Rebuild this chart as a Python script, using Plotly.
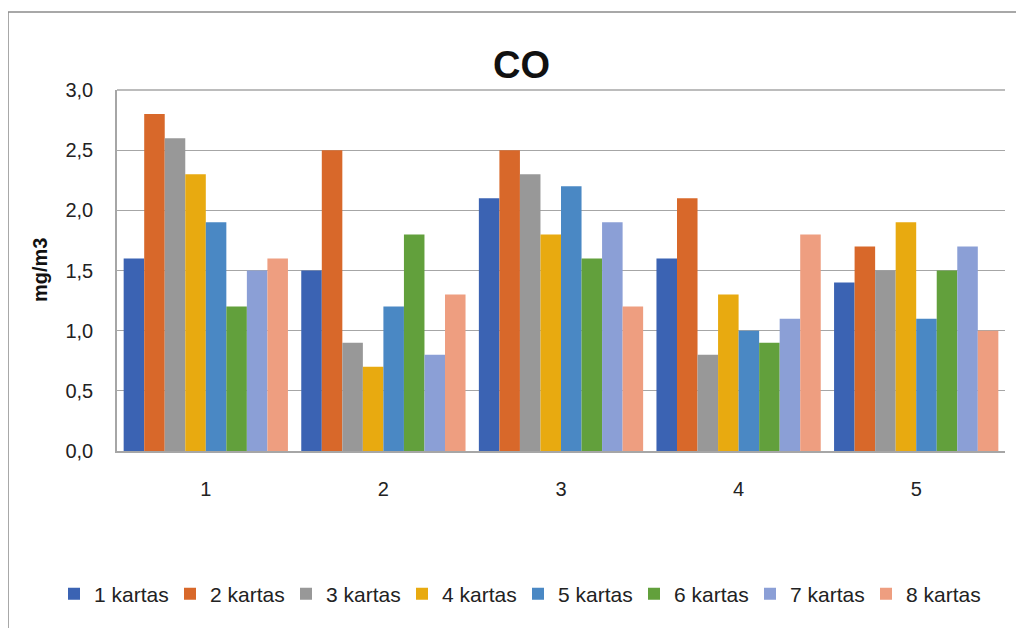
import plotly.graph_objects as go

categories = ["1", "2", "3", "4", "5"]
series_names = ["1 kartas", "2 kartas", "3 kartas", "4 kartas",
                "5 kartas", "6 kartas", "7 kartas", "8 kartas"]
s1 = [1.6, 1.5, 2.1, 1.6, 1.4]
s2 = [2.8, 2.5, 2.5, 2.1, 1.7]
s3 = [2.6, 0.9, 2.3, 0.8, 1.5]
s4 = [2.3, 0.7, 1.8, 1.3, 1.9]
s5 = [1.9, 1.2, 2.2, 1.0, 1.1]
s6 = [1.2, 1.8, 1.6, 0.9, 1.5]
s7 = [1.5, 0.8, 1.9, 1.1, 1.7]
s8 = [1.6, 1.3, 1.2, 1.8, 1.0]
series_values = [s1, s2, s3, s4, s5, s6, s7, s8]
colors = ["#3B63B3", "#D8682A", "#989898", "#E8AA10",
          "#4A88C4", "#62A03C", "#8B9FD6", "#EE9E80"]
y_ticks = [0.0, 0.5, 1.0, 1.5, 2.0, 2.5, 3.0]

fig = go.Figure()
for name, vals, col in zip(series_names, series_values, colors):
    fig.add_trace(go.Bar(x=categories, y=vals, name=name,
                         marker=dict(color=col, line=dict(width=0))))

# page has an 8px body margin: figure coords = screen coords - 8
OFF = 8
W, H = 1024 - OFF, 628 - OFF
L, T = 117 - OFF, 90 - OFF
R = W - (1005 - OFF)
B = H - (451 - OFF)
pw, ph = W - L - R, H - T - B

def px(x):  # screen x -> paper
    return (x - OFF - L) / pw

def py(y):  # screen y -> paper
    return (H - B - (y - OFF)) / ph

font = "Liberation Sans, Arial, sans-serif"
fig.update_layout(
    width=W, height=H,
    margin=dict(l=L, r=R, t=T, b=B, pad=0, autoexpand=False),
    paper_bgcolor="white", plot_bgcolor="white",
    barmode="group", bargap=0.075, bargroupgap=0,
    separators=", ",
    font=dict(family=font, color="#222222"),
    showlegend=True,
    legend=dict(orientation="h", x=px(54), y=py(594), xanchor="left",
                yanchor="middle", font=dict(size=21, color="#222222"),
                itemwidth=30, traceorder="normal", itemclick=False,
                entrywidth=71, entrywidthmode="pixels"),
    xaxis=dict(showgrid=False, showline=True, linecolor="#A6A6A6",
               linewidth=1.5, ticks="", tickfont=dict(size=20),
               ticklabelstandoff=19, fixedrange=True),
    yaxis=dict(range=[0, 3.0], tickvals=y_ticks, tickformat=".1f",
               showgrid=True, gridcolor="#A6A6A6", gridwidth=1,
               showline=True, linecolor="#A6A6A6", linewidth=1.5,
               mirror=False, ticks="", tickfont=dict(size=20),
               ticklabelstandoff=18, zeroline=False, fixedrange=True),
    annotations=[
        dict(text="<b>CO</b>", x=px(521), y=py(65), xref="paper", yref="paper",
             showarrow=False, font=dict(size=38, color="#111111"),
             xanchor="center", yanchor="middle"),
        dict(text="<b>mg/m3</b>", x=px(40), y=py(270), xref="paper", yref="paper",
             showarrow=False, textangle=-90, font=dict(size=20, color="#111111"),
             xanchor="center", yanchor="middle"),
    ],
    shapes=[
        dict(type="rect", xref="paper", yref="paper",
             x0=px(8), x1=px(1040), y0=py(660), y1=py(12),
             line=dict(color="#8C8C8C", width=1.5), layer="below"),
        dict(type="line", xref="paper", yref="paper",
             x0=0, x1=1, y0=1, y1=1,
             line=dict(color="#A6A6A6", width=1.5)),
    ],
)

fig.write_html("out.html")
